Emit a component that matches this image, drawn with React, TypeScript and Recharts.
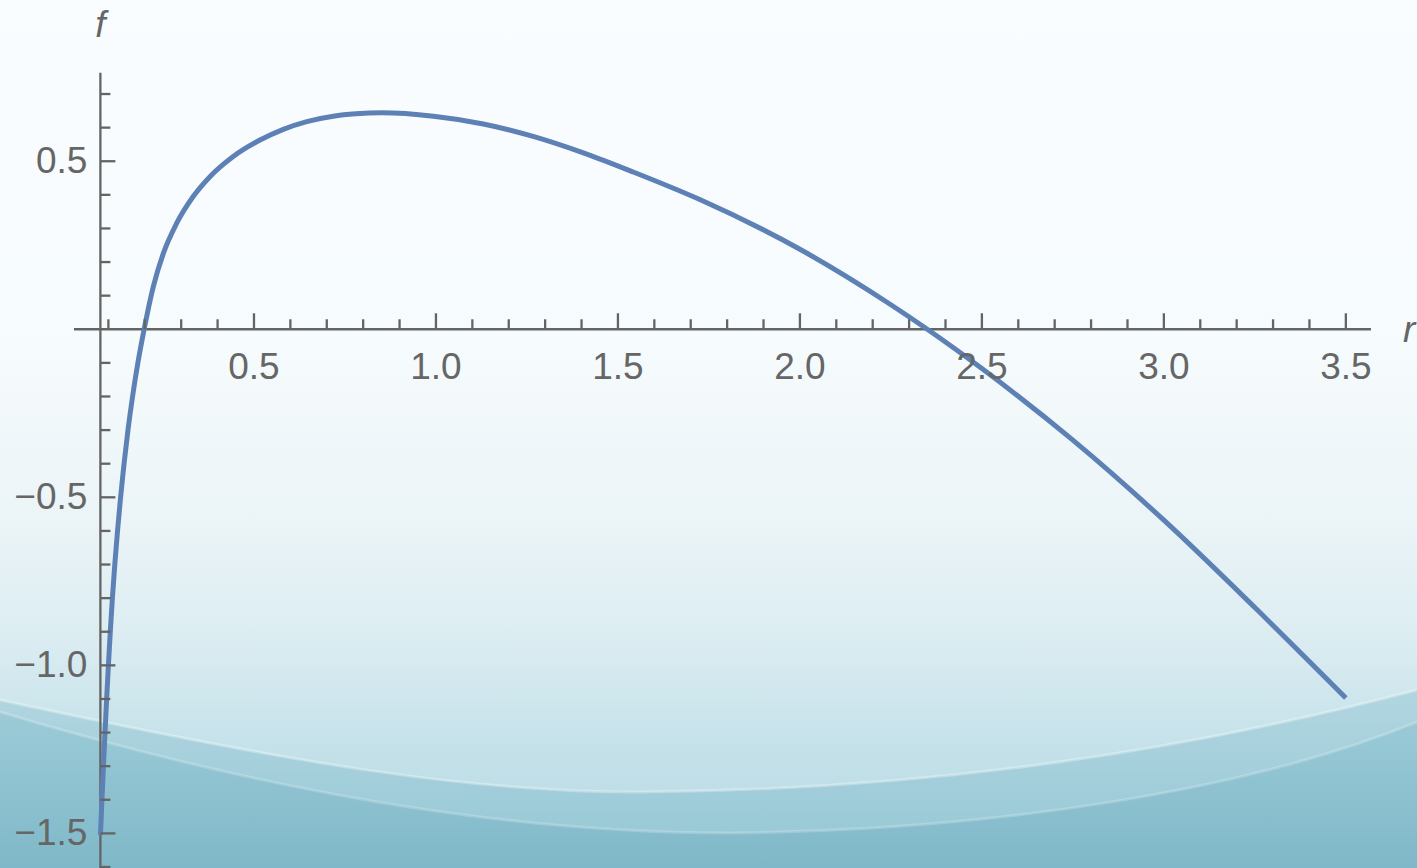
import React from 'react';
import { LineChart, Line, XAxis, YAxis, ReferenceLine } from 'recharts';

// f(r) sampled along the curve
const R_VALUES = [
  0.0781, 0.0823, 0.0864, 0.0907, 0.0952, 0.1, 0.1052, 0.111, 0.1176, 0.1251, 0.1335, 0.143, 0.1538,
  0.1664, 0.181, 0.1982, 0.2234, 0.251, 0.2876, 0.333, 0.379, 0.443, 0.5165, 0.5805, 0.645, 0.718,
  0.78, 0.85, 0.993, 1.13, 1.267, 1.405, 1.542, 1.725, 2.0, 2.25, 2.35, 2.5, 2.75, 3.0, 3.25, 3.5,
];
const F_VALUES = [
  -1.505, -1.4, -1.3, -1.2, -1.1, -1.0, -0.9, -0.8, -0.7, -0.6, -0.5, -0.4, -0.3,
  -0.2, -0.1, 0.0, 0.127, 0.226, 0.3155, 0.395, 0.454, 0.514, 0.563, 0.595, 0.618, 0.634,
  0.641, 0.644, 0.634, 0.611, 0.574, 0.525, 0.468, 0.386, 0.238, 0.073, 0.0, -0.117, -0.33, -0.568, -0.828, -1.097,
];

// axis ticks
const X_TICKS = [
  0.1, 0.2, 0.3, 0.4, 0.5, 0.6, 0.7, 0.8, 0.9, 1.0, 1.1, 1.2, 1.3, 1.4, 1.5, 1.6, 1.7, 1.8,
  1.9, 2.0, 2.1, 2.2, 2.3, 2.4, 2.5, 2.6, 2.7, 2.8, 2.9, 3.0, 3.1, 3.2, 3.3, 3.4, 3.5,
];
const X_LABELED = [0.5, 1.0, 1.5, 2.0, 2.5, 3.0, 3.5];
const Y_TICKS = [
  0.7, 0.6, 0.5, 0.4, 0.3, 0.2, 0.1, -0.1, -0.2, -0.3, -0.4, -0.5, -0.6, -0.7, -0.8,
  -0.9, -1.0, -1.1, -1.2, -1.3, -1.4, -1.5, -1.6,
];
const Y_LABELED = [0.5, -0.5, -1.0, -1.5];

const W = 1417;
const H = 868;
const MARGIN = { top: 10, right: 2, bottom: 0, left: 71 };
const X_AXIS_H = 1;
const Y_AXIS_W = 1;
const X_DOMAIN: [number, number] = [0, 3.69];
const Y_DOMAIN: [number, number] = [-1.6, 0.95];
const AXIS_R = 0.078; // where the vertical axis sits (left end of the plot range)

const PLOT_LEFT = MARGIN.left + Y_AXIS_W;
const PLOT_W = W - PLOT_LEFT - MARGIN.right;
const PLOT_H = H - MARGIN.top - MARGIN.bottom - X_AXIS_H;
// pixel position of the axes crossing, from the same domains the chart uses
const ZERO_Y = MARGIN.top + (Y_DOMAIN[1] / (Y_DOMAIN[1] - Y_DOMAIN[0])) * PLOT_H;
const AXIS_X = PLOT_LEFT + ((AXIS_R - X_DOMAIN[0]) / (X_DOMAIN[1] - X_DOMAIN[0])) * PLOT_W;

const AXIS_COLOR = '#646464';
const AXIS_WIDTH = 2.3;
const TEXT_COLOR = '#666666';
const FONT = '"Liberation Sans", Arial, Helvetica, sans-serif';
const FONT_SIZE = 37;

const data = R_VALUES.map((r, i) => ({ r, f: F_VALUES[i] }));

const isIn = (list: number[], v: number) => list.some((t) => Math.abs(t - v) < 1e-6);
const fmt = (v: number) => (v < 0 ? '\u2212' + Math.abs(v).toFixed(1) : v.toFixed(1));

const XTick = (props: any) => {
  const { x, payload } = props;
  const major = isIn(X_LABELED, payload.value);
  return (
    <g>
      <line x1={x} x2={x} y1={ZERO_Y} y2={ZERO_Y - (major ? 16 : 10)} stroke={AXIS_COLOR} strokeWidth={AXIS_WIDTH} />
      {major && (
        <text x={x} y={ZERO_Y + 50} textAnchor="middle" fill={TEXT_COLOR} fontFamily={FONT} fontSize={FONT_SIZE}>
          {fmt(payload.value)}
        </text>
      )}
    </g>
  );
};

const YTick = (props: any) => {
  const { y, payload } = props;
  const major = isIn(Y_LABELED, payload.value);
  return (
    <g>
      <line x1={AXIS_X} x2={AXIS_X + (major ? 15 : 10)} y1={y} y2={y} stroke={AXIS_COLOR} strokeWidth={AXIS_WIDTH} />
      {major && (
        <text x={AXIS_X - 13} y={y + 11.5} textAnchor="end" fill={TEXT_COLOR} fontFamily={FONT} fontSize={FONT_SIZE}>
          {fmt(payload.value)}
        </text>
      )}
    </g>
  );
};

const Backdrop = () => (
  <svg width={W} height={H} style={{ position: 'absolute', left: 0, top: 0 }}>
    <defs>
      <linearGradient id="sky" x1="0" y1="0" x2="0" y2="1">
        <stop offset="0" stopColor="#fafdff" />
        <stop offset="0.4" stopColor="#f6fbfd" />
        <stop offset="0.6" stopColor="#ebf4f7" />
        <stop offset="0.73" stopColor="#dcedf2" />
        <stop offset="0.85" stopColor="#c6e2ea" />
        <stop offset="1" stopColor="#b4d8e2" />
      </linearGradient>
      <linearGradient id="band1" x1="0" y1="0" x2="0" y2="1">
        <stop offset="0" stopColor="#aad2dd" />
        <stop offset="1" stopColor="#8cc2d1" />
      </linearGradient>
      <linearGradient id="band2" x1="0" y1="0" x2="0" y2="1">
        <stop offset="0" stopColor="#93c6d3" />
        <stop offset="1" stopColor="#74b0c2" />
      </linearGradient>
    </defs>
    <rect width={W} height={H} fill="url(#sky)" />
    <path
      d="M0,700 C300,765 470,792 640,792 C900,790 1150,760 1417,690 L1417,868 L0,868 Z"
      fill="url(#band1)"
      opacity={0.8}
    />
    <path
      d="M0,700 C300,765 470,792 640,792 C900,790 1150,760 1417,690"
      fill="none"
      stroke="#ffffff"
      strokeOpacity={0.3}
      strokeWidth={3}
    />
    <path
      d="M0,712 C260,790 500,833 730,833 C1000,830 1250,790 1417,722 L1417,868 L0,868 Z"
      fill="url(#band2)"
      opacity={0.65}
    />
    <path
      d="M0,712 C260,790 500,833 730,833 C1000,830 1250,790 1417,722"
      fill="none"
      stroke="#ffffff"
      strokeOpacity={0.2}
      strokeWidth={3}
    />
  </svg>
);

export default function App() {
  return (
    <div style={{ position: 'fixed', left: 0, top: 0, width: W, height: H, overflow: 'hidden' }}>
      <Backdrop />
      <div style={{ position: 'absolute', left: 0, top: 0 }}>
        <LineChart width={W} height={H} data={data} margin={MARGIN}>
          <XAxis
            type="number"
            dataKey="r"
            domain={X_DOMAIN}
            ticks={X_TICKS}
            interval={0}
            allowDataOverflow
            axisLine={false}
            tickLine={false}
            height={X_AXIS_H}
            tick={(p: any) => <XTick {...p} />}
          />
          <YAxis
            type="number"
            domain={Y_DOMAIN}
            ticks={Y_TICKS}
            interval={0}
            allowDataOverflow
            axisLine={false}
            tickLine={false}
            width={Y_AXIS_W}
            tick={(p: any) => <YTick {...p} />}
          />
          {/* axes through the origin */}
          <ReferenceLine
            segment={[{ x: 0.0055, y: 0 }, { x: 3.569, y: 0 }]}
            stroke={AXIS_COLOR}
            strokeWidth={AXIS_WIDTH}
            ifOverflow="visible"
            label={(p: any) => (
              <text
                x={p.viewBox.x + p.viewBox.width + 32}
                y={p.viewBox.y + 13}
                fill={TEXT_COLOR}
                fontFamily={FONT}
                fontSize={FONT_SIZE}
                fontStyle="italic"
              >
                r
              </text>
            )}
          />
          <ReferenceLine
            segment={[{ x: AXIS_R, y: 0.763 }, { x: AXIS_R, y: -1.62 }]}
            stroke={AXIS_COLOR}
            strokeWidth={AXIS_WIDTH}
            ifOverflow="visible"
            label={(p: any) => (
              <text
                x={p.viewBox.x}
                y={p.viewBox.y - 36}
                textAnchor="middle"
                fill={TEXT_COLOR}
                fontFamily={FONT}
                fontSize={FONT_SIZE}
                fontStyle="italic"
              >
                f
              </text>
            )}
          />
          <Line
            type="monotone"
            dataKey="f"
            stroke="#5e81b5"
            strokeWidth={5}
            dot={false}
            isAnimationActive={false}
          />
        </LineChart>
      </div>
    </div>
  );
}
